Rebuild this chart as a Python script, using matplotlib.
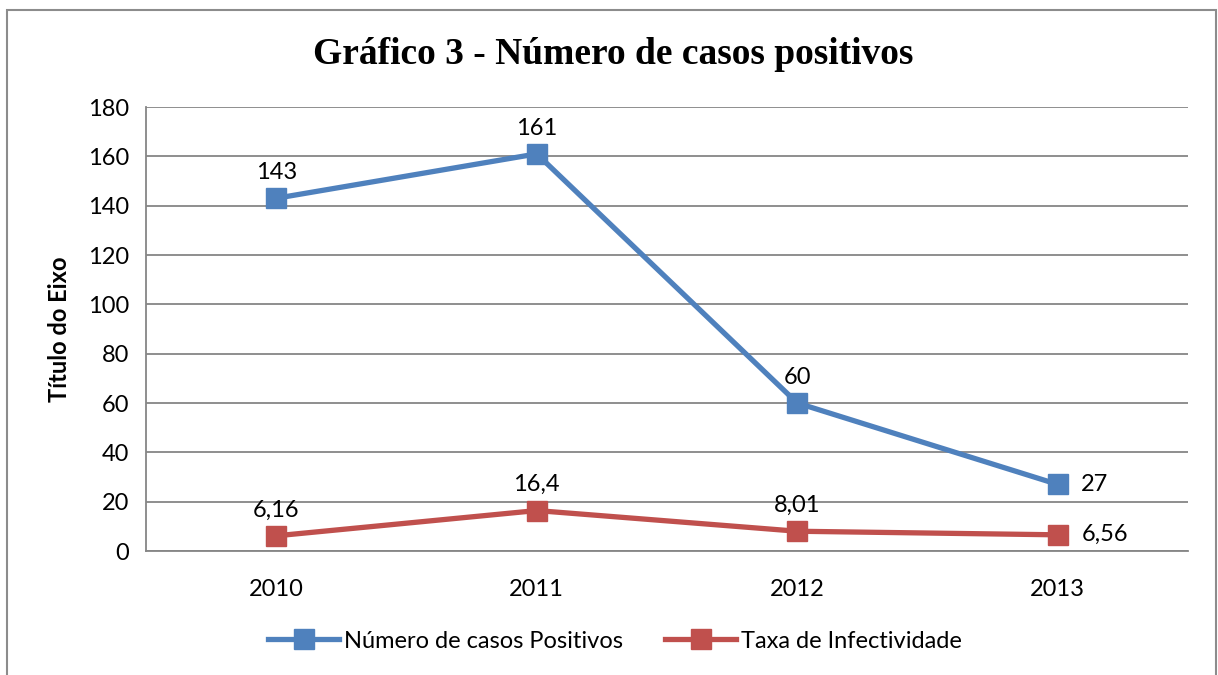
import matplotlib
matplotlib.use("Agg")
import matplotlib.pyplot as plt
from matplotlib.patches import Rectangle

years = ["2010", "2011", "2012", "2013"]
casos = [143, 161, 60, 27]
taxa = [6.16, 16.4, 8.01, 6.56]
casos_labels = ["143", "161", "60", "27"]
taxa_labels = ["6,16", "16,4", "8,01", "6,56"]
yticks = [0, 20, 40, 60, 80, 100, 120, 140, 160, 180]

blue = "#4F81BD"
red = "#C0504D"
grid = "#868686"
font = ["Lato", "DejaVu Sans"]
fs = 17

fig = plt.figure(figsize=(12.18, 6.75), dpi=100)
fig.patches.append(Rectangle((7/1218, -0.05), (1216-7)/1218, 1 - 10/675 + 0.05,
                             transform=fig.transFigure, fill=False,
                             edgecolor="#8C8C8C", linewidth=1.5))
ax = fig.add_axes([146/1218, 1-551/675, (1188-146)/1218, (551-107)/675])

x = list(range(len(years)))
ax.plot(x, casos, color=blue, lw=3.8, marker="s", markersize=14, label="Número de casos Positivos", zorder=3)
ax.plot(x, taxa, color=red, lw=3.8, marker="s", markersize=14, label="Taxa de Infectividade", zorder=3)

ax.set_xlim(-0.5, 3.5)
ax.set_ylim(0, 180)
ax.set_yticks(yticks)
ax.set_yticklabels([str(v) for v in yticks], fontsize=fs, family=font)
ax.set_xticks(x)
ax.set_xticklabels(years, fontsize=fs, family=font)
ax.tick_params(length=0, pad=12)
ax.tick_params(axis="x", pad=20)
ax.yaxis.grid(True, color=grid, lw=1.3)
ax.set_axisbelow(True)
for s in ["top", "right"]:
    ax.spines[s].set_visible(False)
for s in ["left", "bottom"]:
    ax.spines[s].set_color(grid)
    ax.spines[s].set_linewidth(1.3)

ax.set_ylabel("Título do Eixo", fontsize=fs, fontweight="bold", family=font, labelpad=12)

for i, (v, lab) in enumerate(zip(casos, casos_labels)):
    if i == 3:
        ax.annotate(lab, (i, v), xytext=(17, 0), textcoords="offset points", ha="left", va="center", fontsize=fs, family=font)
    else:
        ax.annotate(lab, (i, v), xytext=(0, 11), textcoords="offset points", ha="center", va="bottom", fontsize=fs, family=font)
for i, (v, lab) in enumerate(zip(taxa, taxa_labels)):
    if i == 3:
        ax.annotate(lab, (i, v), xytext=(17, 0), textcoords="offset points", ha="left", va="center", fontsize=fs, family=font)
    else:
        ax.annotate(lab, (i, v), xytext=(0, 11), textcoords="offset points", ha="center", va="bottom", fontsize=fs, family=font)

fig.text(613/1218, 1-55/675, "Gráfico 3 - Número de casos positivos", ha="center", va="center",
         fontsize=27, fontweight="bold", family=["Liberation Serif", "DejaVu Serif"])

fig.legend(loc="center", bbox_to_anchor=(615/1218, 1-641/675), ncol=2, frameon=False,
           prop={"family": font, "size": fs}, handlelength=3.0, handletextpad=0.2, columnspacing=1.8)

fig.savefig("out.png", dpi=100)
